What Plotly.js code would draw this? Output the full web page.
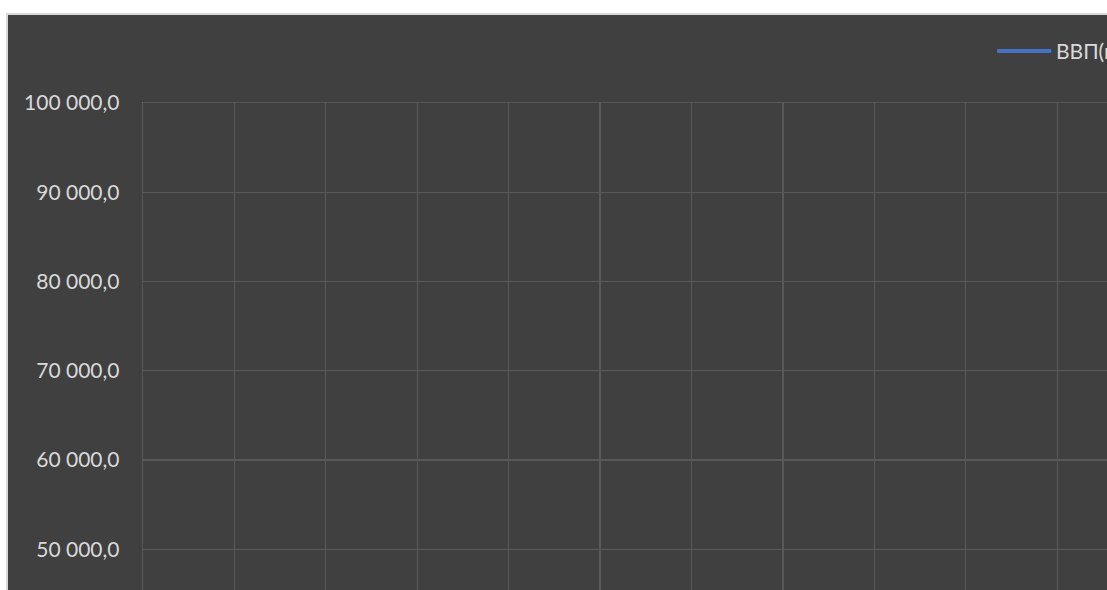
<!DOCTYPE html>
<html>
<head>
<meta charset="utf-8">
<script src="https://cdn.plot.ly/plotly-3.0.1.min.js"></script>
<style>
html,body{margin:0;padding:0;background:#ffffff;overflow:hidden;width:1107px;height:590px;}
#frame{position:absolute;left:6px;top:13px;border-left:2px solid #d9d9d9;border-top:2px solid #d9d9d9;}
#chart{width:1340px;height:600px;}
</style>
</head>
<body>
<div id="frame"><div id="chart"></div></div>
<script>
// Data (series line lies below the visible crop)
const years = ['1998','1999','2000','2001','2002','2003','2004','2005','2006','2007','2008','2009'];
const gdp = [2630, 4823, 7306, 8944, 10831, 13208, 17027, 21610, 26917, 33248, 41277, 38807];
const seriesName = 'ВВП(млрд руб.)';
const yTicks = [50000,60000,70000,80000,90000,100000];
const yTickText = ['50 000,0','60 000,0','70 000,0','80 000,0','90 000,0','100 000,0'];
const yMin = 45000, yMax = 100000;

// layout geometry (pixels)
const ML = 135, MT = 88;
const catW = 91.4;
const PW = catW * years.length;
const pxPerUnit = 0.00892;
const PH = (yMax - yMin) * pxPerUnit;
const W = 1340, H = Math.round(MT + PH + 8);
const px = x => (x - 8 - ML) / PW;
const py = y => (MT + PH - (y - 15)) / PH;

const gridColor = '#595959';
const textColor = '#d9d9d9';
const font = {family: 'Lato, "Open Sans", sans-serif', size: 21, color: textColor};

const trace = {
  x: years, y: gdp, type: 'scatter', mode: 'lines', name: seriesName,
  line: {color: '#4472c4', width: 3.5}, showlegend: false, cliponaxis: true
};

const layout = {
  width: W, height: H,
  paper_bgcolor: '#404040', plot_bgcolor: '#404040',
  margin: {l: ML, t: MT, r: W - ML - PW, b: H - MT - PH, pad: 0},
  font: font,
  xaxis: {
    type: 'category', tickson: 'boundaries', range: [-0.5, years.length - 0.5],
    showgrid: true, gridcolor: gridColor, gridwidth: 1.3,
    showline: true, mirror: true, linecolor: gridColor, linewidth: 1.3,
    zeroline: false, ticks: '', showticklabels: false, fixedrange: true
  },
  yaxis: {
    range: [yMin, yMax], tickmode: 'array', tickvals: yTicks, ticktext: yTickText,
    showgrid: true, gridcolor: gridColor, gridwidth: 1.3, zeroline: false,
    showline: true, mirror: true, linecolor: gridColor, linewidth: 1.3,
    ticks: '', ticklabelstandoff: 18, tickfont: font, fixedrange: true
  },
  shapes: [{
    type: 'line', xref: 'paper', yref: 'paper',
    x0: px(997), x1: px(1051), y0: py(51), y1: py(51),
    line: {color: '#4472c4', width: 4}
  }],
  annotations: [{
    xref: 'paper', yref: 'paper', x: px(1054), y: py(51),
    xanchor: 'left', yanchor: 'middle', showarrow: false,
    text: seriesName, font: font
  }]
};

Plotly.newPlot('chart', [trace], layout, {staticPlot: true, displayModeBar: false});
</script>
</body>
</html>
